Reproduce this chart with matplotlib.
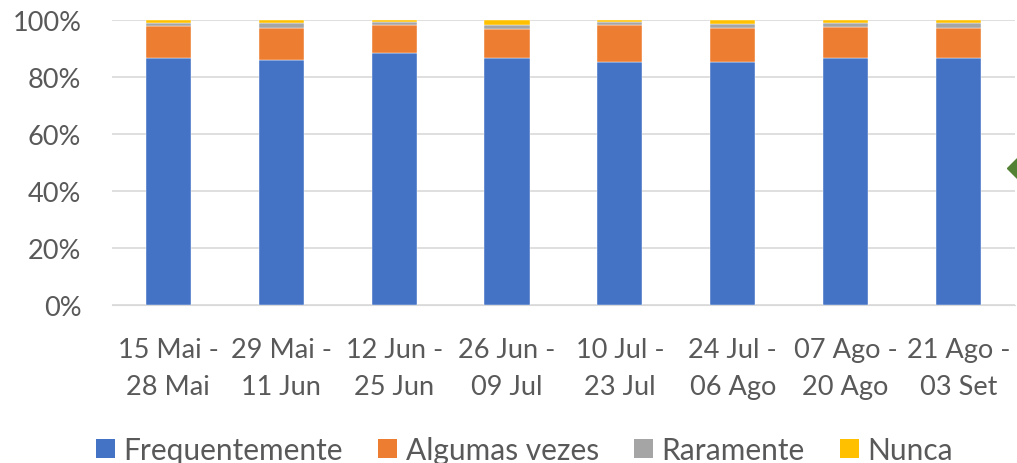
import matplotlib
matplotlib.use("Agg")
import matplotlib.pyplot as plt
import numpy as np

periods = ["15 Mai -\n28 Mai", "29 Mai -\n11 Jun", "12 Jun -\n25 Jun", "26 Jun -\n09 Jul",
           "10 Jul -\n23 Jul", "24 Jul -\n06 Ago", "07 Ago -\n20 Ago", "21 Ago -\n03 Set"]
frequentemente = [86.6, 86.0, 88.4, 86.6, 85.2, 85.2, 86.5, 86.75]
algumas_vezes = [11.2, 11.3, 9.9, 10.2, 13.1, 11.9, 11.2, 10.3]
raramente = [1.0, 1.6, 1.0, 1.6, 0.9, 1.6, 1.4, 1.75]
nunca = [1.2, 1.05, 0.7, 1.6, 0.8, 1.3, 0.9, 1.2]

series = [("Frequentemente", frequentemente, "#4472C4"),
          ("Algumas vezes", algumas_vezes, "#ED7D31"),
          ("Raramente", raramente, "#A5A5A5"),
          ("Nunca", nunca, "#FFC000")]

# stray marker from a neighbouring chart, cut off at the right edge
side_marker_x = [7.56]
side_marker_y = [48]

plt.rcParams['font.family'] = ['Lato', 'DejaVu Sans']
text_col = "#595959"

fig = plt.figure(figsize=(10.17, 4.64), dpi=100)
ax = fig.add_axes([0.110, 0.3405, 0.888, 0.6142])

x = np.arange(len(periods))
bottom = np.zeros(len(periods))
for name, vals, col in series:
    vals = np.array(vals)
    ax.bar(x, vals, 0.4, bottom=bottom, color=col, label=name,
           edgecolor="white", linewidth=0.3, zorder=3)
    bottom += vals

ax.plot(side_marker_x, side_marker_y, marker="D", color="#548235", markersize=15,
        clip_on=False, linestyle="none")

ax.set_xlim(-0.5, 7.5)
ax.set_ylim(0, 100)
ax.set_yticks(np.arange(0, 101, 20))
ax.set_yticklabels([f"{v}%" for v in range(0, 101, 20)])
ax.set_xticks(x)
ax.set_xticklabels(periods, linespacing=1.6)
ax.grid(axis="y", color="#D9D9D9", linewidth=1.2, zorder=0)
for s in ax.spines.values():
    s.set_visible(False)
ax.spines["bottom"].set_visible(True)
ax.spines["bottom"].set_color("#D9D9D9")
ax.tick_params(axis="both", length=0, labelsize=19.5, colors=text_col)
ax.tick_params(axis="y", pad=22)
ax.tick_params(axis="x", pad=23)

leg = fig.legend(loc="lower center", bbox_to_anchor=(0.516, -0.06), ncol=4, frameon=False,
                 fontsize=21.5, handlelength=0.62, handleheight=0.62, handletextpad=0.3,
                 columnspacing=1.18)
for h in leg.legend_handles:
    h.set_edgecolor("none")
for t in leg.get_texts():
    t.set_color(text_col)

fig.savefig("out.png", dpi=100)
